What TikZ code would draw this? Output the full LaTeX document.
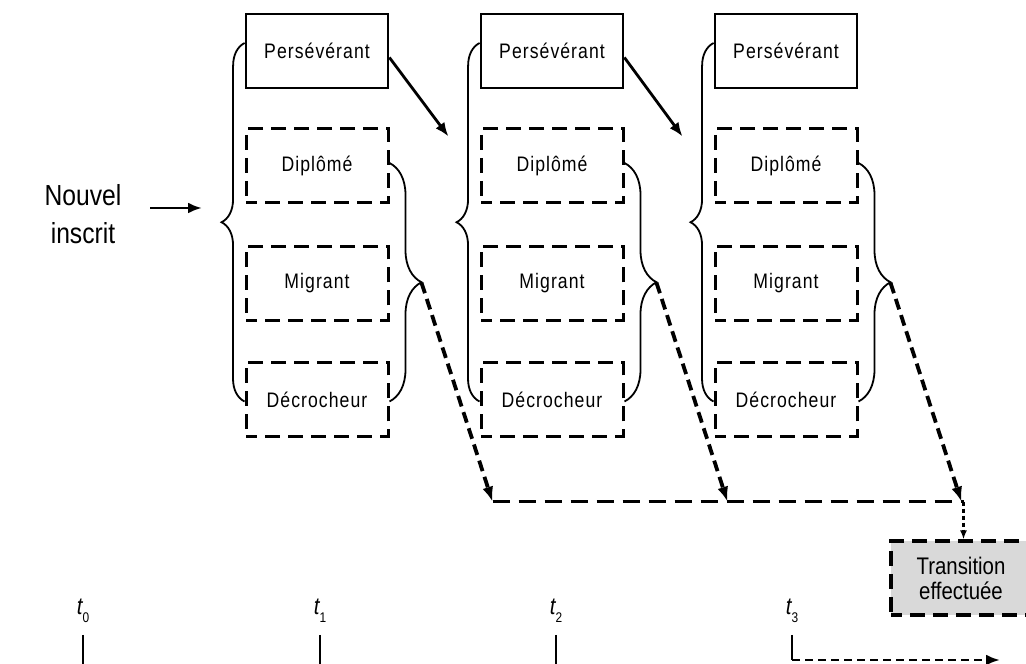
\documentclass[tikz,border=0pt]{standalone}
\usepackage{fontspec}
\setmainfont{Liberation Sans}[FakeStretch=0.85]
\newfontfamily\boxfont{Liberation Sans}[FakeStretch=0.84, LetterSpace=5]
\usetikzlibrary{arrows.meta, positioning, calc, decorations.pathreplacing}
\definecolor{cGrayBg}{RGB}{217,217,217}
\newcommand{\tlab}[1]{{\itshape t}\raisebox{-8pt}{\fontsize{14}{14}\selectfont #1}}
\tikzset{
	state/.style    ={rectangle, draw=black, line width=2.8pt, minimum width=142pt, minimum height=74pt, inner sep=0pt, align=center, font=\boxfont\fontsize{21}{24}\selectfont},
	statedash/.style={state, line width=3pt, dash pattern=on 15pt off 8pt, dash phase=4pt},
	lbrace/.style   ={decorate, decoration={brace, amplitude=23pt}, line width=1.8pt},
	rbrace/.style   ={decorate, decoration={brace, amplitude=32pt}, line width=1.8pt},
	arr/.style      ={-{Latex[length=14pt, width=11pt]}, line width=2.8pt},
	exitarr/.style  ={-{Latex[length=15pt, width=11pt]}, line width=3.8pt, dash pattern=on 11pt off 6pt},
	exitline/.style ={line width=3pt, dash pattern=on 17pt off 9pt},
	donearr/.style  ={-{Latex[length=9pt, width=7pt]}, line width=2.4pt, dash pattern=on 4pt off 3pt},
	timearr/.style  ={-{Latex[length=14pt, width=11pt]}, line width=2.8pt, dash pattern=on 8pt off 5pt},
	tick/.style     ={line width=2.8pt},
}
\begin{document}
\begin{tikzpicture}[x=1pt, y=1pt, font=\fontsize{20}{24}\selectfont]
	\clip (0,0) rectangle (1026,664);
	\useasboundingbox (0,0) rectangle (1026,664);
	% entry
	\node[align=center, font=\fontsize{29}{38}\selectfont] (new) at (83,450) {Nouvel\\inscrit};
	\coordinate (newend) at (202,456);
	\draw[arr] (newend -| 150,0) -- (newend);
	% the three years
	\foreach \c/\x in {1/317, 2/552, 3/786} {
		\node[state] (per\c) at (\x,613) {Persévérant};
		\node[statedash] (dip\c) at (\x,498) {Diplômé};
		\node[statedash] (mig\c) at (\x,380.5) {Migrant};
		\node[statedash] (dec\c) at (\x,264.5) {Décrocheur};
		\draw[lbrace] ([yshift=-2pt]dec\c.west) -- ([yshift=8pt]per\c.west);
		\draw[rbrace] ([yshift=3pt]dip\c.east) -- ([yshift=-2pt]dec\c.east);
		\coordinate (tip\c) at ($(dip\c.east)!0.5!(dec\c.east)+(32,0)$);
		\coordinate (j\c) at ($(tip\c)+(71,-219)$);
		\draw[exitarr] (tip\c) -- (j\c);
	}
	\draw[arr] ([yshift=-6.5pt]per1.east) -- ($(dip2.north west)+(-31,-9)$);
	\draw[arr] ([yshift=-6.5pt]per2.east) -- ($(dip3.north west)+(-31,-9)$);
	\draw[exitline] (j1) -- ([xshift=2pt]j3);
	% transition
	\node[statedash, fill=cGrayBg, minimum width=140pt, line width=3.2pt, font=\fontsize{24}{25}\selectfont] (trans) at (961,86) {Transition\\effectuée};
	\draw[donearr] ([xshift=2pt]j3) -- ([xshift=2pt]j3 |- trans.north);
	% time axis
	\foreach \i/\x in {0/83, 1/320, 2/556, 3/792} {
		\node[font=\fontsize{24}{24}\selectfont] (t\i) at (\x,53) {\tlab{\i}};
		\coordinate (k\i) at (\x,29);
	}
	\foreach \i in {0,1,2} \draw[tick] (k\i) -- (k\i |- 0,-2);
	\draw[tick] (k3) -- (k3 |- 0,4);
	\draw[timearr] (k3 |- 0,4) -- (1000,4);
\end{tikzpicture}
\end{document}
